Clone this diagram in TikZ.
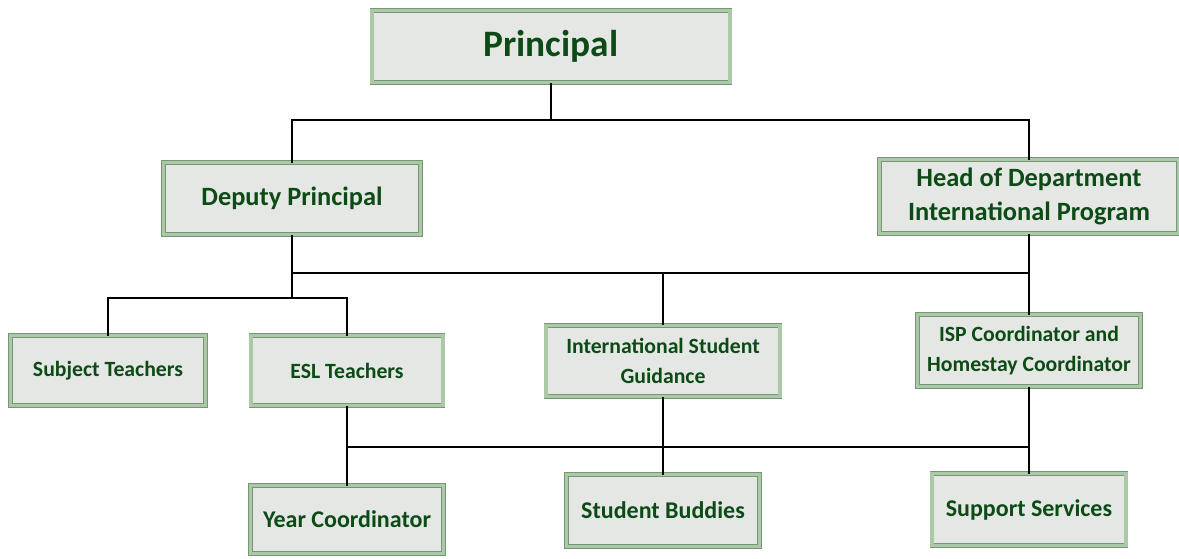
\documentclass[tikz,border=0pt]{standalone}
\usepackage{fontspec}
\setmainfont{Carlito}
\definecolor{boxfill}{RGB}{229,231,228}
\definecolor{bevellight}{RGB}{170,202,166}
\definecolor{beveldark}{RGB}{122,148,121}
\definecolor{labelgreen}{RGB}{12,74,22}

\tikzset{every picture/.style={line width=0.75pt}}
\tikzset{
  orgbox/.style 2 args={draw=beveldark, line width=0.6pt, double=bevellight, double distance=2.5pt,
    fill=boxfill, inner sep=0pt, outer sep=0pt, align=center, text=labelgreen,
    minimum width=#1, minimum height=#2},
  bigfont/.style={font=\bfseries\fontsize{28}{32}\selectfont},
  midfont/.style={font=\bfseries\fontsize{19.8}{26}\selectfont},
  smallfont/.style={font=\bfseries\fontsize{16.3}{22.5}\selectfont},
  lowfont/.style={font=\bfseries\fontsize{18}{22}\selectfont},
  link/.style={line width=1.2pt, draw=black}
}

\begin{document}
\begin{tikzpicture}[x=0.75pt,y=0.75pt,yscale=-1,xscale=1]
\useasboundingbox (0,0) rectangle (1179,558);

%Shape: Boxes
\node [orgbox={268.5pt}{54pt}, bigfont] (principal) at (551,46.5) {Principal};
\node [orgbox={192.8pt}{54pt}, midfont] (deputy) at (292,198.5) {Deputy Principal};
\node [orgbox={224.3pt}{55.5pt}, midfont] (hod) at (1029,196.5) {Head of Department\\International Program};
\node [orgbox={146.3pt}{52.5pt}, smallfont] (subject) at (108,370.5) {Subject Teachers};
\node [orgbox={144pt}{52.5pt}, smallfont] (esl) at (347,370.5) {ESL Teachers};
\node [orgbox={175.5pt}{53.3pt}, smallfont] (isg) at (663,361) {International Student\\Guidance};
\node [orgbox={167.3pt}{54pt}, smallfont] (isp) at (1029,350.5) {ISP Coordinator and\\Homestay Coordinator};
\node [orgbox={144.8pt}{51pt}, lowfont] (year) at (347,519.5) {Year Coordinator};
\node [orgbox={144.8pt}{54pt}, lowfont] (buddies) at (663,510.5) {Student Buddies};
\node [orgbox={145.5pt}{54pt}, lowfont] (support) at (1029,509.5) {Support Services};

%Bus Levels
\coordinate (topbus) at (0,120);
\coordinate (midbus) at (0,273);
\coordinate (leftbus) at (0,298);
\coordinate (lowbus) at (0,447);

%Straight Lines
\draw [link] (principal.south) -- (principal.south |- topbus);
\draw [link] (deputy.north) -- (deputy.north |- topbus) -- (hod.north |- topbus) -- (hod.north);
%Straight Lines
\draw [link] (deputy.south) -- (deputy.south |- leftbus);
\draw [link] (deputy.south |- midbus) -- (hod.south |- midbus);
\draw [link] (hod.south) -- (isp.north);
\draw [link] (isg.north) -- (isg.north |- midbus);
%Straight Lines
\draw [link] (subject.north) -- (subject.north |- leftbus) -- (esl.north |- leftbus) -- (esl.north);
%Straight Lines
\draw [link] (esl.south) -- (year.north);
\draw [link] (esl.south |- lowbus) -- (support.north |- lowbus);
\draw [link] (isg.south) -- (buddies.north);
\draw [link] (isp.south) -- (support.north);

\end{tikzpicture}
\end{document}
